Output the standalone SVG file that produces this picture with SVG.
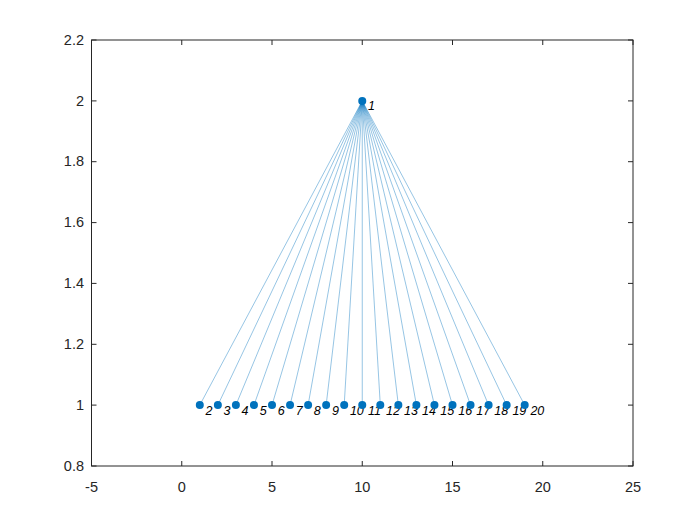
<svg xmlns="http://www.w3.org/2000/svg" width="700" height="525" viewBox="0 0 700 525">
<style>
.ax{stroke:#262626;stroke-width:1;fill:none}
.tk{stroke:#262626;stroke-width:1}
.tl{font-family:"Liberation Sans",Arial,sans-serif;font-size:14.5px;fill:#262626}
.e{stroke:#0072BD;stroke-opacity:0.55;stroke-width:0.75}
.n{fill:#0072BD}
.nl{font-family:"Liberation Sans",Arial,sans-serif;font-size:12.5px;font-style:italic;fill:#000}
</style>
<rect width="700" height="525" fill="#fff"/>
<g id="axes">
<rect class="ax" x="91.5" y="40" width="541.5" height="426"/>
<g class="tk">
<path d="M91.5 466v-5M181.75 466v-5M272 466v-5M362.25 466v-5M452.5 466v-5M542.75 466v-5M633 466v-5"/>
<path d="M91.5 40v5M181.75 40v5M272 40v5M362.25 40v5M452.5 40v5M542.75 40v5M633 40v5"/>
<path d="M91.5 466h5M91.5 405.1h5M91.5 344.3h5M91.5 283.4h5M91.5 222.6h5M91.5 161.7h5M91.5 100.9h5M91.5 40h5"/>
<path d="M633 466h-5M633 405.1h-5M633 344.3h-5M633 283.4h-5M633 222.6h-5M633 161.7h-5M633 100.9h-5M633 40h-5"/>
</g>
<g class="tl" text-anchor="middle">
<text x="91.5" y="492">-5</text>
<text x="181.75" y="492">0</text>
<text x="272" y="492">5</text>
<text x="362.25" y="492">10</text>
<text x="452.5" y="492">15</text>
<text x="542.75" y="492">20</text>
<text x="633" y="492">25</text>
</g>
<g class="tl" text-anchor="end">
<text x="84" y="471">0.8</text>
<text x="84" y="410">1</text>
<text x="84" y="349">1.2</text>
<text x="84" y="288">1.4</text>
<text x="84" y="227">1.6</text>
<text x="84" y="166">1.8</text>
<text x="84" y="106">2</text>
<text x="84" y="45">2.2</text>
</g>
</g>
<g id="edges">
<path class="e" d="M362.25 100.9L199.8 405.1M362.25 100.9L217.85 405.1M362.25 100.9L235.9 405.1M362.25 100.9L253.95 405.1M362.25 100.9L272 405.1M362.25 100.9L290.05 405.1M362.25 100.9L308.1 405.1M362.25 100.9L326.15 405.1M362.25 100.9L344.2 405.1M362.25 100.9L362.25 405.1M362.25 100.9L380.3 405.1M362.25 100.9L398.35 405.1M362.25 100.9L416.4 405.1M362.25 100.9L434.45 405.1M362.25 100.9L452.5 405.1M362.25 100.9L470.55 405.1M362.25 100.9L488.6 405.1M362.25 100.9L506.65 405.1M362.25 100.9L524.7 405.1"/>
</g>
<g id="n1"><circle class="n" cx="362.25" cy="100.9" r="4"/><text class="nl" x="368" y="109.5">1</text></g>
<g id="n2"><circle class="n" cx="199.8" cy="405.1" r="4"/><text class="nl" x="205.5" y="414.5">2</text></g>
<g id="n3"><circle class="n" cx="217.85" cy="405.1" r="4"/><text class="nl" x="223.5" y="414.5">3</text></g>
<g id="n4"><circle class="n" cx="235.9" cy="405.1" r="4"/><text class="nl" x="241.6" y="414.5">4</text></g>
<g id="n5"><circle class="n" cx="253.95" cy="405.1" r="4"/><text class="nl" x="259.7" y="414.5">5</text></g>
<g id="n6"><circle class="n" cx="272" cy="405.1" r="4"/><text class="nl" x="277.7" y="414.5">6</text></g>
<g id="n7"><circle class="n" cx="290.05" cy="405.1" r="4"/><text class="nl" x="295.8" y="414.5">7</text></g>
<g id="n8"><circle class="n" cx="308.1" cy="405.1" r="4"/><text class="nl" x="313.8" y="414.5">8</text></g>
<g id="n9"><circle class="n" cx="326.15" cy="405.1" r="4"/><text class="nl" x="331.9" y="414.5">9</text></g>
<g id="n10"><circle class="n" cx="344.2" cy="405.1" r="4"/><text class="nl" x="349.9" y="414.5">10</text></g>
<g id="n11"><circle class="n" cx="362.25" cy="405.1" r="4"/><text class="nl" x="368" y="414.5">11</text></g>
<g id="n12"><circle class="n" cx="380.3" cy="405.1" r="4"/><text class="nl" x="386" y="414.5">12</text></g>
<g id="n13"><circle class="n" cx="398.35" cy="405.1" r="4"/><text class="nl" x="404.1" y="414.5">13</text></g>
<g id="n14"><circle class="n" cx="416.4" cy="405.1" r="4"/><text class="nl" x="422.1" y="414.5">14</text></g>
<g id="n15"><circle class="n" cx="434.45" cy="405.1" r="4"/><text class="nl" x="440.2" y="414.5">15</text></g>
<g id="n16"><circle class="n" cx="452.5" cy="405.1" r="4"/><text class="nl" x="458.2" y="414.5">16</text></g>
<g id="n17"><circle class="n" cx="470.55" cy="405.1" r="4"/><text class="nl" x="476.3" y="414.5">17</text></g>
<g id="n18"><circle class="n" cx="488.6" cy="405.1" r="4"/><text class="nl" x="494.3" y="414.5">18</text></g>
<g id="n19"><circle class="n" cx="506.65" cy="405.1" r="4"/><text class="nl" x="512.4" y="414.5">19</text></g>
<g id="n20"><circle class="n" cx="524.7" cy="405.1" r="4"/><text class="nl" x="530.4" y="414.5">20</text></g>
</svg>
